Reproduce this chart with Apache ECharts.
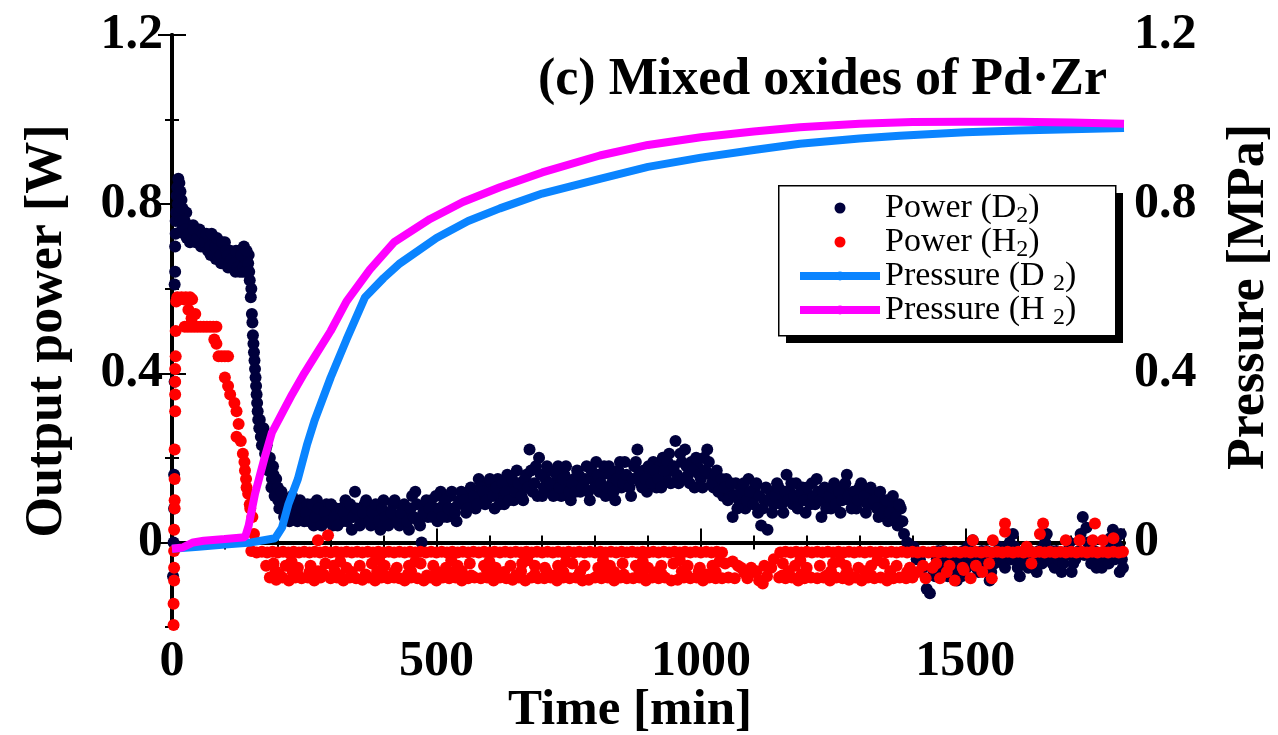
<!DOCTYPE html>
<html>
<head>
<meta charset="utf-8">
<script src="https://cdn.jsdelivr.net/npm/echarts@6/dist/echarts.min.js"></script>
<style>
    html, body { margin: 0; padding: 0; background: #fff; }
    #chart { width: 1278px; height: 735px; }
</style>
</head>
<body>
<div id="chart"></div>
<script>
    // tick labels
    var xLabelValues = [0, 500, 1000, 1500];
    var yLabelValues = [0, 0.4, 0.8, 1.2];

    // Power (D2) [min, W]
    var powerD2 = [
        [2,-0.08],[3,0.0],[4,0.08],[4,0.16],[5,0.38],[5,0.61],[6,0.64],[6,0.70],[7,0.73],[7,0.76],[8,0.78],[9,0.82],[10,0.84],[12,0.86],
        [14,0.85],[16,0.83],[18,0.81],[20,0.79],[22,0.77],[24,0.76],[27,0.78],[30,0.75],[33,0.74],[36,0.73],[40,0.75],[43,0.72],[46,0.74],
        [50,0.73],[53,0.71],[56,0.72],[60,0.73],[63,0.70],[66,0.71],[70,0.72],[73,0.68],[76,0.70],[80,0.72],[83,0.67],[86,0.69],[90,0.70],
        [93,0.66],[96,0.68],[100,0.71],[103,0.67],[106,0.65],[110,0.69],[113,0.66],[116,0.68],[120,0.64],[123,0.67],[126,0.69],[130,0.66],
        [133,0.64],[136,0.70],[139,0.67],[142,0.65],[145,0.68],[147,0.62],[149,0.58],[151,0.54],[153,0.49],[155,0.45],[157,0.41],[159,0.37],
        [161,0.33],[163,0.29],[165,0.27],[168,0.25],[171,0.26],[174,0.24],[177,0.22],[180,0.20],[183,0.19],[186,0.17],[189,0.15],[192,0.16],
        [195,0.13],[198,0.12],[201,0.10],[205,0.11],[210,0.09],[215,0.08],[220,0.07],[225,0.09],[230,0.06],[235,0.08],[240,0.07],[245,0.06],
        [11,0.80],[13,0.78],[15,0.76],[17,0.79],[19,0.74],[21,0.76],[23,0.73],[25,0.74],[28,0.72],[31,0.73],[34,0.71],[38,0.72],[41,0.74],
        [45,0.71],[48,0.72],[52,0.74],[55,0.70],[58,0.73],[62,0.71],[65,0.73],[68,0.69],[72,0.70],[75,0.73],[78,0.68],[82,0.70],[85,0.72],
        [88,0.67],[92,0.68],[95,0.71],[98,0.66],[102,0.69],[105,0.68],[108,0.66],[112,0.67],[115,0.65],[118,0.66],[121,0.69],[124,0.65],
        [128,0.64],[131,0.68],[135,0.65],[138,0.64],[141,0.69],[144,0.66],[146,0.64],[150,0.60],[152,0.52],[154,0.47],[156,0.43],[158,0.39],
        [160,0.35],[162,0.31],[166,0.29],[170,0.23],[173,0.27],[176,0.21],[179,0.23],[182,0.17],[185,0.20],[188,0.13],[191,0.18],[194,0.11],
        [197,0.15],[200,0.13],[203,0.08],[207,0.12],[212,0.06],[217,0.10],[222,0.05],[227,0.11],[232,0.09],[237,0.05],[242,0.10],[247,0.08],
        [250,0.05],[256,0.09],[262,0.07],[268,0.04],[274,0.10],[280,0.06],[286,0.05],[292,0.09],[298,0.07],[304,0.04],[310,0.08],[316,0.06],
        [322,0.05],[328,0.10],[334,0.07],[340,0.03],[346,0.12],[352,0.06],[358,0.05],[364,0.09],[370,0.07],[376,0.04],[382,0.08],[388,0.06],
        [394,0.03],[400,0.10],[406,0.07],[412,0.05],[418,0.09],[424,0.06],[430,0.04],[436,0.08],[442,0.06],[448,0.03],[454,0.11],[460,0.12],
        [466,0.05],[472,0.00],[478,0.08],[484,0.06],[490,0.10],[496,0.08],[502,0.05],[508,0.12],[514,0.09],[520,0.06],[526,0.11],[532,0.08],
        [538,0.05],[544,0.10],[550,0.09],[556,0.07],[562,0.12],[568,0.10],[574,0.08],[580,0.15],[586,0.11],[592,0.09],[598,0.14],[604,0.12],
        [610,0.08],[616,0.15],[622,0.11],[628,0.09],[634,0.16],[640,0.13],[646,0.10],[652,0.17],[658,0.13],[664,0.10],[670,0.16],[676,0.22],
        [682,0.12],[688,0.18],[694,0.20],[700,0.11],[706,0.15],[712,0.17],[718,0.12],[724,0.14],[730,0.18],[736,0.11],[742,0.16],[748,0.13],
        [754,0.10],[760,0.15],[766,0.17],[772,0.12],[778,0.14],[784,0.18],[790,0.10],[796,0.15],[802,0.19],[808,0.12],[814,0.16],[820,0.11],
        [826,0.18],[832,0.14],[838,0.10],[844,0.17],[850,0.13],[856,0.19],[862,0.15],[868,0.11],[874,0.18],[880,0.22],[886,0.14],[892,0.17],
        [898,0.12],[904,0.16],[910,0.19],[916,0.13],[922,0.18],[928,0.20],[934,0.15],[940,0.21],[946,0.17],[952,0.24],[958,0.14],[964,0.19],
        [970,0.22],[976,0.16],[982,0.19],[988,0.13],[994,0.18],[1000,0.15],[1006,0.20],[1012,0.22],[1018,0.16],[1024,0.13],[1030,0.17],
        [1036,0.14],[1042,0.11],[1048,0.15],[1054,0.12],[1060,0.06],[1066,0.14],[1072,0.10],[1078,0.13],[1084,0.08],[1090,0.15],[1096,0.11],
        [1102,0.13],[1108,0.07],[1114,0.04],[1120,0.10],[1126,0.03],[1132,0.12],[1138,0.09],[1144,0.14],[1150,0.11],[1156,0.07],[1162,0.16],
        [1168,0.12],[1174,0.09],[1180,0.14],[1186,0.10],[1192,0.13],[1198,0.07],[1204,0.11],[1210,0.14],[1216,0.09],[1222,0.12],[1228,0.06],
        [1234,0.13],[1240,0.10],[1246,0.08],[1252,0.14],[1258,0.11],[1264,0.07],[1270,0.13],[1276,0.16],[1282,0.10],[1288,0.12],[1294,0.08],
        [1300,0.13],[1306,0.10],[1312,0.07],[1318,0.12],[1324,0.09],[1330,0.11],[1336,0.06],[1342,0.10],[1348,0.08],[1354,0.05],[1360,0.09],
        [1366,0.07],[1372,0.04],[1378,0.08],
        [253,0.07],[259,0.05],[265,0.09],[271,0.06],[277,0.08],[283,0.04],[289,0.07],[295,0.05],[301,0.09],[307,0.06],[313,0.04],[319,0.08],
        [325,0.07],[331,0.05],[337,0.09],[343,0.06],[349,0.08],[355,0.04],[361,0.07],[367,0.10],[373,0.05],[379,0.07],[385,0.09],[391,0.05],
        [397,0.08],[403,0.06],[409,0.04],[415,0.07],[421,0.10],[427,0.05],[433,0.07],[439,0.09],[445,0.05],[451,0.08],[457,0.06],[463,0.09],
        [469,0.04],[475,0.07],[481,0.10],[487,0.08],[493,0.06],[499,0.11],[505,0.08],[511,0.06],[517,0.10],[523,0.08],[529,0.12],[535,0.07],
        [541,0.09],[547,0.12],[553,0.10],[559,0.08],[565,0.13],[571,0.11],[577,0.09],[583,0.13],[589,0.12],[595,0.10],[601,0.15],[607,0.11],
        [613,0.13],[619,0.09],[625,0.14],[631,0.12],[637,0.10],[643,0.15],[649,0.12],[655,0.14],[661,0.11],[667,0.15],[673,0.13],[679,0.17],
        [685,0.14],[691,0.11],[697,0.16],[703,0.13],[709,0.18],[715,0.14],[721,0.11],[727,0.16],[733,0.13],[739,0.15],[745,0.18],[751,0.12],
        [757,0.14],[763,0.12],[769,0.16],[775,0.13],[781,0.15],[787,0.12],[793,0.17],[799,0.13],[805,0.16],[811,0.14],[817,0.18],[823,0.13],
        [829,0.16],[835,0.12],[841,0.15],[847,0.19],[853,0.14],[859,0.16],[865,0.13],[871,0.15],[877,0.19],[883,0.16],[889,0.13],[895,0.15],
        [901,0.18],[907,0.14],[913,0.17],[919,0.15],[925,0.13],[931,0.17],[937,0.19],[943,0.14],[949,0.18],[955,0.16],[961,0.21],[967,0.15],
        [973,0.18],[979,0.14],[985,0.17],[991,0.20],[997,0.16],[1003,0.13],[1009,0.17],[1015,0.19],[1021,0.14],[1027,0.16],[1033,0.12],
        [1039,0.15],[1045,0.13],[1051,0.10],[1057,0.14],[1063,0.11],[1069,0.08],[1075,0.12],[1081,0.14],[1087,0.10],[1093,0.12],[1099,0.09],
        [1105,0.14],[1111,0.11],[1117,0.08],[1123,0.13],[1129,0.10],[1135,0.07],[1141,0.11],[1147,0.13],[1153,0.09],[1159,0.12],[1165,0.10],
        [1171,0.14],[1177,0.11],[1183,0.08],[1189,0.12],[1195,0.10],[1201,0.13],[1207,0.09],[1213,0.11],[1219,0.15],[1225,0.10],[1231,0.12],
        [1237,0.08],[1243,0.11],[1249,0.13],[1255,0.09],[1261,0.12],[1267,0.10],[1273,0.14],[1279,0.11],[1285,0.08],[1291,0.12],[1297,0.10],
        [1303,0.14],[1309,0.11],[1315,0.09],[1321,0.13],[1327,0.10],[1333,0.08],[1339,0.12],[1345,0.07],[1351,0.10],[1357,0.07],[1363,0.11],
        [1369,0.06],[1375,0.09],[1381,0.05],
        [1384,0.02],[1390,0.00],[1396,-0.02],[1402,-0.01],[1408,-0.04],[1414,-0.04],[1420,-0.06],
        [1427,-0.11],[1433,-0.12],[1440,-0.07],[1446,-0.04],[1452,-0.05],[1458,-0.02],[1464,-0.06],[1470,-0.03],[1476,-0.07],[1484,-0.09],
        [1490,-0.04],[1496,-0.02],[1502,-0.06],[1508,-0.03],[1514,0.005],[1521,-0.06],[1528,-0.03],[1534,-0.05],[1540,-0.02],[1546,-0.09],
        [1552,-0.04],[1558,-0.03],[1565,-0.01],[1572,-0.05],[1578,-0.03],[1584,0.00],[1590,0.02],[1596,-0.04],[1603,-0.08],[1610,-0.03],
        [1616,-0.05],[1622,-0.02],[1628,-0.04],[1635,-0.07],[1642,-0.03],[1648,-0.01],[1654,0.02],[1660,-0.03],[1665,-0.05],[1672,-0.02],
        [1682,-0.07],[1690,-0.03],[1697,0.00],[1701,-0.07],[1708,-0.04],[1715,-0.02],[1722,0.06],[1729,0.035],[1735,-0.02],[1741,-0.04],
        [1748,-0.06],[1755,-0.03],[1762,-0.05],[1768,-0.02],[1774,0.01],[1779,0.03],[1785,0.01],[1788,-0.01],[1792,-0.07],[1796,-0.04],
        [1443,-0.08],[1449,-0.02],[1455,-0.06],[1461,-0.04],[1467,-0.08],[1473,-0.05],[1479,-0.03],[1487,-0.06],[1493,-0.08],[1499,-0.04],
        [1505,-0.01],[1511,-0.05],[1518,-0.03],[1525,-0.07],[1531,-0.02],[1537,-0.06],[1543,-0.04],[1549,-0.07],[1555,-0.05],[1561,-0.02],
        [1568,-0.04],[1575,-0.06],[1581,-0.02],[1587,-0.04],[1593,-0.01],[1599,-0.06],[1606,-0.05],[1613,-0.02],[1619,-0.06],[1625,-0.03],
        [1632,-0.05],[1639,-0.02],[1645,-0.05],[1651,0.00],[1657,-0.04],[1663,-0.02],[1669,-0.06],[1676,-0.04],[1685,-0.05],[1693,-0.02],
        [1704,-0.05],[1711,-0.03],[1718,0.02],[1725,-0.03],[1732,0.00],[1738,-0.05],[1744,-0.02],[1751,-0.04],[1758,-0.06],[1765,-0.03],
        [1771,-0.05],[1777,-0.01],[1783,-0.04],[1791,-0.02],[1794,0.02],[1798,-0.06]
    ];

    // Power (H2) [min, W]
    var powerH2 = [
        [3,-0.195],[3,-0.145],[4,-0.09],[4,-0.06],[4,-0.02],[4,0.03],[5,0.08],[5,0.10],[5,0.15],[5,0.22],[6,0.31],[6,0.35],[6,0.38],
        [6,0.41],[7,0.44],[7,0.50],[8,0.57],[10,0.58],[14,0.575],[18,0.58],[22,0.575],[26,0.58],[30,0.575],[34,0.58],[38,0.575],[31,0.55],
        [37,0.53],[44,0.54],[24,0.51],[30,0.51],[36,0.51],[42,0.51],[48,0.51],[54,0.51],[60,0.51],[66,0.51],[72,0.51],[78,0.51],[84,0.51],
        [80,0.48],[84,0.47],[88,0.44],[94,0.44],[100,0.44],[106,0.44],[100,0.39],[106,0.37],[110,0.35],[118,0.33],[122,0.31],[126,0.28],
        [122,0.25],[130,0.24],[134,0.21],[137,0.19],[138,0.17],[140,0.15],[141,0.13],[144,0.115],[147,0.09],[148,0.08],[152,0.06],[155,0.02],
        // upper row
        [150,-0.02],[160,-0.024],[170,-0.022],[180,-0.024],[190,-0.022],[200,-0.024],[210,-0.022],[220,-0.024],[230,-0.022],[240,-0.024],
        [250,-0.022],[260,-0.024],[270,-0.022],[280,-0.024],[290,-0.022],[300,-0.024],[310,-0.022],[320,-0.024],[330,-0.022],[340,-0.024],
        [350,-0.022],[360,-0.024],[370,-0.022],[380,-0.024],[390,-0.022],[400,-0.024],[410,-0.022],[420,-0.024],[430,-0.022],[440,-0.024],
        [450,-0.022],[460,-0.024],[470,-0.022],[480,-0.024],[490,-0.022],[500,-0.024],[510,-0.022],[520,-0.024],[530,-0.022],[540,-0.024],
        [550,-0.022],[560,-0.024],[570,-0.022],[580,-0.024],[590,-0.022],[600,-0.024],[610,-0.022],[620,-0.024],[630,-0.022],[640,-0.024],
        [650,-0.022],[660,-0.024],[670,-0.022],[680,-0.024],[690,-0.022],[700,-0.024],[710,-0.022],[720,-0.024],[730,-0.022],[740,-0.024],
        [750,-0.022],[760,-0.024],[770,-0.022],[780,-0.024],[790,-0.022],[800,-0.024],[810,-0.022],[820,-0.024],[830,-0.022],[840,-0.024],
        [850,-0.022],[860,-0.024],[870,-0.022],[880,-0.024],[890,-0.022],[900,-0.024],[910,-0.022],[920,-0.024],[930,-0.022],[940,-0.024],
        [950,-0.022],[960,-0.024],[970,-0.022],[980,-0.024],[990,-0.022],[1000,-0.024],[1010,-0.022],[1020,-0.024],[1030,-0.022],[1040,-0.024],
        [1150,-0.024],[1160,-0.022],[1170,-0.024],[1180,-0.022],[1190,-0.024],[1200,-0.022],[1210,-0.024],[1220,-0.022],[1230,-0.024],
        [1240,-0.022],[1250,-0.024],[1260,-0.022],[1270,-0.024],[1280,-0.022],[1290,-0.024],[1300,-0.022],[1310,-0.024],[1320,-0.022],
        [1330,-0.024],[1340,-0.022],[1350,-0.024],[1360,-0.022],[1370,-0.024],[1380,-0.022],[1390,-0.024],[1400,-0.022],[1410,-0.024],
        [1420,-0.022],[1430,-0.024],[1440,-0.022],[1450,-0.024],[1460,-0.022],[1470,-0.024],[1480,-0.022],[1490,-0.024],[1500,-0.022],
        [1510,-0.024],[1520,-0.022],[1530,-0.024],[1540,-0.022],[1550,-0.024],[1560,-0.022],[1570,-0.024],[1580,-0.022],[1590,-0.024],
        [1600,-0.022],[1610,-0.024],[1620,-0.022],[1630,-0.024],[1640,-0.022],[1650,-0.024],[1660,-0.022],[1670,-0.024],[1680,-0.022],
        [1690,-0.024],[1700,-0.022],[1710,-0.024],[1720,-0.022],[1730,-0.024],[1740,-0.022],[1750,-0.024],[1760,-0.022],[1770,-0.024],
        [1780,-0.022],[1790,-0.024],[1798,-0.022],
        // lower row
        [185,-0.083],[197,-0.088],[209,-0.083],[221,-0.09],[233,-0.083],[245,-0.085],[257,-0.083],[269,-0.09],[281,-0.083],[300,-0.085],
        [312,-0.083],[324,-0.09],[336,-0.083],[348,-0.085],[372,-0.083],[384,-0.09],[396,-0.083],[408,-0.085],[420,-0.083],[440,-0.09],
        [452,-0.083],[464,-0.085],[488,-0.083],[500,-0.09],[512,-0.083],[524,-0.085],[536,-0.083],[548,-0.09],[572,-0.083],[584,-0.085],
        [596,-0.083],[608,-0.09],[620,-0.083],[632,-0.085],[656,-0.083],[668,-0.09],[680,-0.083],[692,-0.085],[716,-0.083],[728,-0.09],
        [740,-0.083],[752,-0.085],[764,-0.083],[776,-0.09],[800,-0.083],[812,-0.085],[824,-0.083],[836,-0.09],[848,-0.083],[860,-0.085],
        [884,-0.083],[896,-0.09],[908,-0.083],[920,-0.085],[932,-0.083],[944,-0.09],[968,-0.083],[980,-0.085],[992,-0.083],[1004,-0.09],
        [1016,-0.083],[1028,-0.085],[1052,-0.083],[1064,-0.085],[1076,-0.06],[1088,-0.085],[1100,-0.07],[1110,-0.09],[1117,-0.097],
        [1125,-0.08],[1133,-0.06],[1138,-0.04],[1148,-0.083],[1160,-0.085],[1172,-0.083],[1184,-0.09],[1208,-0.083],[1220,-0.085],
        [1232,-0.083],[1244,-0.09],[1256,-0.083],[1268,-0.085],[1292,-0.083],[1304,-0.09],[1316,-0.083],[1328,-0.085],[1340,-0.083],
        [1352,-0.09],[1376,-0.083],[1388,-0.085],[1400,-0.083],[1410,-0.07],[1425,-0.085],[1438,-0.06],[1452,-0.085],[1465,-0.07],
        [1480,-0.09],[1497,-0.065],[1510,-0.085],[1532,-0.07],[1550,-0.085],
        [360,-0.088],[430,-0.085],[476,-0.09],[560,-0.085],[644,-0.088],[704,-0.085],[788,-0.088],[872,-0.085],[956,-0.088],[1040,-0.085],
        [1196,-0.085],[1280,-0.088],[1364,-0.085],
        [203,-0.076],[239,-0.078],[287,-0.076],[318,-0.078],[366,-0.076],[402,-0.078],[446,-0.076],[482,-0.078],[518,-0.076],[566,-0.078],
        [602,-0.076],[650,-0.078],[686,-0.076],[722,-0.078],[770,-0.076],[806,-0.078],[854,-0.076],[890,-0.078],[926,-0.076],[974,-0.078],
        [1010,-0.076],[1154,-0.078],[1190,-0.076],[1238,-0.078],[1274,-0.076],[1322,-0.078],[1358,-0.076],[1394,-0.078],
        // middle rows
        [178,-0.055],[192,-0.05],[215,-0.055],[238,-0.06],[262,-0.055],[290,-0.05],[305,-0.055],[330,-0.06],[355,-0.055],[378,-0.05],
        [402,-0.055],[425,-0.06],[448,-0.055],[470,-0.05],[494,-0.055],[518,-0.06],[540,-0.055],[563,-0.05],[590,-0.055],[612,-0.06],
        [640,-0.055],[662,-0.05],[686,-0.055],[705,-0.06],[730,-0.055],[757,-0.05],[780,-0.055],[806,-0.06],[828,-0.055],[852,-0.05],
        [877,-0.055],[900,-0.06],[925,-0.055],[948,-0.05],[975,-0.055],[998,-0.06],[1022,-0.055],[1046,-0.05],[1060,-0.045],[1070,-0.055],
        [1095,-0.06],[1120,-0.055],[1155,-0.05],[1178,-0.055],[1200,-0.06],[1225,-0.055],[1250,-0.05],[1274,-0.055],[1298,-0.06],
        [1322,-0.055],[1346,-0.05],[1370,-0.055],[1395,-0.06],[1420,-0.055],[1445,-0.05],[1470,-0.055],[1495,-0.06],[1520,-0.055],[1545,-0.05],
        [196,-0.068],[228,-0.068],[260,-0.07],[276,-0.068],[308,-0.068],[340,-0.07],[388,-0.068],[420,-0.07],[452,-0.068],[500,-0.068],
        [532,-0.07],[548,-0.068],[596,-0.068],[628,-0.07],[660,-0.068],[708,-0.068],[740,-0.07],[772,-0.068],[820,-0.068],[836,-0.07],
        [884,-0.068],[916,-0.07],[964,-0.068],[996,-0.068],[1028,-0.07],[1082,-0.072],[1105,-0.068],[1166,-0.068],[1198,-0.07],
        [1246,-0.068],[1278,-0.07],[1310,-0.068],[1358,-0.068],[1390,-0.07],
        [226,-0.045],[318,-0.045],[392,-0.042],[460,-0.045],[528,-0.042],[600,-0.045],[672,-0.042],[745,-0.045],[815,-0.042],[890,-0.045],
        [960,-0.042],[1035,-0.045],[1188,-0.042],[1262,-0.045],[1334,-0.042],
        // above the row
        [276,0.005],[295,0.017],[1514,0.005],[1552,0.005],[1575,0.045],[1575,0.025],[1616,-0.01],[1647,0.045],[1641,0.02],[1625,-0.05],
        [1690,0.005],[1716,0.005],[1745,0.045],[1741,0.005],[1760,0.005],[1780,0.01]
    ];

    // Pressure (D2) [min, MPa]
    var pressureD2 = [
        [0,-0.015],[50,-0.01],[100,-0.005],[150,0.0],[195,0.01],[208,0.035],[220,0.09],[238,0.15],[255,0.23],[270,0.29],[300,0.39],
        [330,0.48],[365,0.58],[400,0.625],[431,0.66],[500,0.72],[560,0.76],[620,0.79],[700,0.825],[809,0.86],[900,0.888],[1000,0.91],
        [1100,0.928],[1187,0.943],[1300,0.955],[1376,0.962],[1500,0.97],[1600,0.974],[1700,0.977],[1800,0.98]
    ];

    // Pressure (H2) [min, MPa]
    var pressureH2 = [
        [0,-0.015],[20,-0.012],[40,0.0],[60,0.004],[100,0.008],[138,0.012],[145,0.04],[157,0.115],[175,0.2],[189,0.26],[210,0.31],
        [227,0.35],[250,0.40],[270,0.44],[300,0.50],[330,0.57],[374,0.645],[420,0.71],[488,0.765],[550,0.805],[620,0.84],[700,0.875],
        [809,0.915],[900,0.94],[1000,0.958],[1100,0.972],[1187,0.982],[1300,0.99],[1400,0.994],[1500,0.995],[1600,0.995],[1700,0.993],
        [1800,0.99]
    ];

    var serif = 'Liberation Serif';
    var chart = echarts.init(document.getElementById('chart'));

    function yLabel(v) {
        for (var i = 0; i < yLabelValues.length; i++) {
            if (Math.abs(v - yLabelValues[i]) < 1e-6) return Math.abs(v) < 1e-6 ? '0' : v.toFixed(1);
        }
        return '';
    }
    function xLabel(v) {
        return xLabelValues.indexOf(v) >= 0 ? String(v) : '';
    }

    var frameLine = { show: true, lineStyle: { color: '#000', width: 4 } };
    var minorTick = { show: true, inside: true, length: 7, lineStyle: { color: '#000', width: 2 } };
    var majorTick = { show: true, inside: true, length: 14, lineStyle: { color: '#000', width: 2 } };
    var labelFont = { fontFamily: serif, fontWeight: 'bold', fontSize: 50, color: '#000' };
    var nameFont = { fontFamily: serif, fontWeight: 'bold', fontSize: 52, color: '#000' };

    var xBase = { type: 'value', min: 0, max: 1800, splitLine: { show: false } };
    var yBase = { type: 'value', min: -0.2, max: 1.2, splitLine: { show: false } };
    var gridBox = { left: 172, right: 154, top: 35, bottom: 108, containLabel: false, outerBoundsMode: 'none' };

    chart.setOption({
        animation: false,
        title: {
            text: '(c) Mixed oxides of Pd·Zr',
            right: 166,
            top: 50,
            textStyle: { fontFamily: serif, fontWeight: 'bold', fontSize: 52, color: '#000' }
        },
        // legend frame with its drop shadow
        graphic: [
            { type: 'rect', left: 786, top: 193, z: 3, shape: { width: 337, height: 150 }, style: { fill: '#000' } },
            { type: 'rect', left: 778, top: 185, z: 3, shape: { width: 337, height: 150 },
              style: { fill: '#fff', stroke: '#000', lineWidth: 1.5 } }
        ],
        legend: {
            left: 774,
            top: 188,
            z: 5,
            orient: 'vertical',
            padding: [0, 0, 0, 22],
            itemGap: -6,
            itemWidth: 80,
            itemHeight: 11,
            lineStyle: { width: 'inherit' },
            data: [
                { name: 'Power (D2)', icon: 'circle' },
                { name: 'Power (H2)', icon: 'circle' },
                { name: 'Pressure (D2)' },
                { name: 'Pressure (H2)' }
            ],
            formatter: function (name) {
                return name.replace('(D2)', name.indexOf('Pressure') === 0 ? '(D {s|2})' : '(D{s|2})')
                           .replace('(H2)', name.indexOf('Pressure') === 0 ? '(H {s|2})' : '(H{s|2})');
            },
            textStyle: {
                fontFamily: serif, fontSize: 34, color: '#000', lineHeight: 40,
                rich: {
                    s: { fontFamily: serif, fontSize: 24, color: '#000', verticalAlign: 'bottom' }
                }
            }
        },
        grid: [gridBox, Object.assign({}, gridBox)],
        xAxis: [
            Object.assign({}, xBase, {
                gridIndex: 0, position: 'bottom', interval: 100,
                axisLine: frameLine, axisTick: minorTick,
                axisLabel: Object.assign({ formatter: xLabel, margin: 10 }, labelFont),
                name: 'Time [min]', nameLocation: 'middle', nameGap: 58, nameMoveOverlap: false,
                nameTextStyle: Object.assign({ padding: [0, 36, 0, 0] }, nameFont, { fontSize: 51 })
            }),
            Object.assign({}, xBase, {
                gridIndex: 0, position: 'top', interval: 100,
                axisLine: frameLine, axisTick: minorTick, axisLabel: { show: false }
            }),
            Object.assign({}, xBase, {
                gridIndex: 1, position: 'bottom', interval: 500,
                axisLine: { show: false }, axisTick: majorTick, axisLabel: { show: false }
            }),
            Object.assign({}, xBase, {
                gridIndex: 1, position: 'top', interval: 500,
                axisLine: { show: false }, axisTick: majorTick, axisLabel: { show: false }
            })
        ],
        yAxis: [
            Object.assign({}, yBase, {
                gridIndex: 0, position: 'left', interval: 0.2,
                axisLine: frameLine, axisTick: minorTick,
                axisLabel: Object.assign({ formatter: yLabel, margin: 9 }, labelFont),
                name: 'Output power [W]', nameLocation: 'middle', nameGap: 98, nameMoveOverlap: false,
                nameTextStyle: nameFont
            }),
            Object.assign({}, yBase, {
                gridIndex: 0, position: 'right', interval: 0.2,
                axisLine: frameLine, axisTick: minorTick,
                axisLabel: Object.assign({ formatter: yLabel, margin: 10 }, labelFont),
                name: 'Pressure [MPa]', nameLocation: 'middle', nameGap: 100, nameMoveOverlap: false,
                nameTextStyle: Object.assign({ padding: [0, 0, 0, 68] }, nameFont)
            }),
            Object.assign({}, yBase, {
                gridIndex: 1, position: 'left', interval: 0.2,
                axisLine: { show: false },
                axisTick: Object.assign({ customValues: yLabelValues }, majorTick),
                axisLabel: { show: false }
            }),
            Object.assign({}, yBase, {
                gridIndex: 1, position: 'right', interval: 0.2,
                axisLine: { show: false },
                axisTick: Object.assign({ customValues: yLabelValues }, majorTick),
                axisLabel: { show: false }
            })
        ],
        series: [
            {
                name: 'Power (D2)', type: 'scatter', xAxisIndex: 0, yAxisIndex: 0,
                symbolSize: 12, itemStyle: { color: '#00003c', opacity: 1 },
                data: powerD2
            },
            {
                name: 'Power (H2)', type: 'scatter', xAxisIndex: 0, yAxisIndex: 0,
                symbolSize: 12, itemStyle: { color: '#ff0000', opacity: 1 },
                data: powerH2
            },
            {
                name: 'Pressure (D2)', type: 'line', xAxisIndex: 0, yAxisIndex: 1,
                symbol: 'none', lineStyle: { color: '#0a84ff', width: 8 }, itemStyle: { color: '#0a84ff' },
                data: pressureD2
            },
            {
                name: 'Pressure (H2)', type: 'line', xAxisIndex: 0, yAxisIndex: 1,
                symbol: 'none', lineStyle: { color: '#ff00ff', width: 8 }, itemStyle: { color: '#ff00ff' },
                data: pressureH2
            }
        ]
    });
</script>
</body>
</html>
